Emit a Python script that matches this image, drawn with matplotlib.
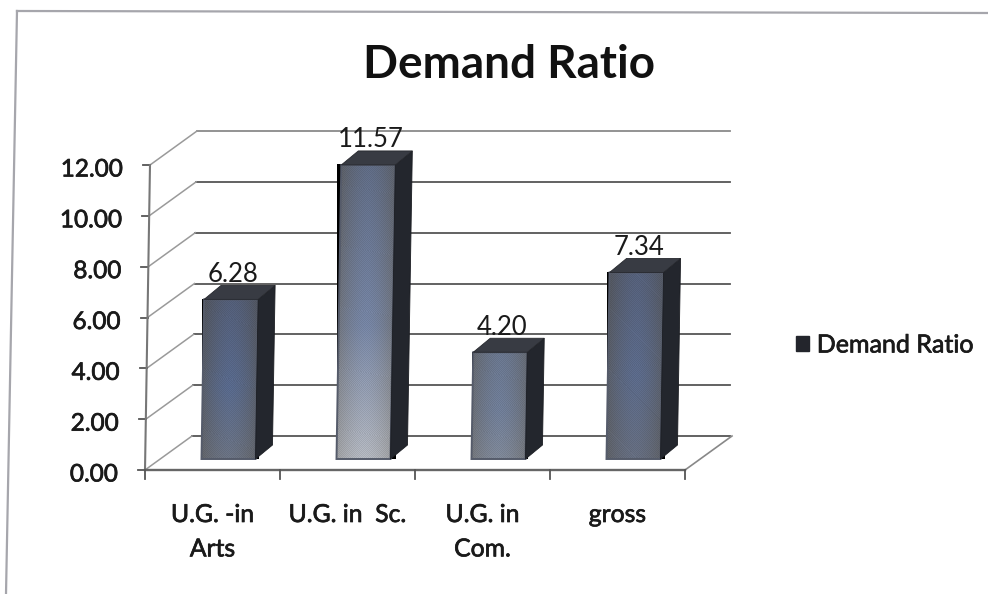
import numpy as np
import matplotlib
matplotlib.use("Agg")
import matplotlib.pyplot as plt
import matplotlib.patheffects as pe
from matplotlib.colors import to_rgb
from matplotlib.lines import Line2D
from matplotlib.patches import Patch, Polygon
from matplotlib.transforms import Affine2D, IdentityTransform

title = "Demand Ratio"
categories = ["U.G. -in\nArts", "U.G. in  Sc.", "U.G. in\nCom.", "gross"]
values = [6.28, 11.57, 4.20, 7.34]
value_labels = ["6.28", "11.57", "4.20", "7.34"]
y_ticks = [0, 2, 4, 6, 8, 10, 12]

# face colours of each bar, picked by eye
bar_top = ["#535e78", "#5f6b84", "#69768e", "#55607a"]
bar_mid = ["#58698c", "#7584a3", "#6f7d97", "#5b6a8a"]
bar_bottom = ["#6a7282", "#b2b6be", "#7e8797", "#656d7f"]

W, H = 988, 594
plt.rcParams["font.family"] = ["Lato", "DejaVu Sans"]
heavy = [pe.withStroke(linewidth=0.5, foreground="#1a1a1a")]

fig = plt.figure(figsize=(W / 100, H / 100), dpi=100, facecolor="white")
ax = fig.add_axes([145 / W, 124 / H, 540 / W, 305 / H])
ax.set_xlim(0, len(categories))
ax.set_ylim(0, 12)
ax.axis("off")

# the photo of the page leans a little, so everything is sheared
k = 5 / 305
shear = Affine2D.from_values(1, 0, k, 1, -k * 124, 0)
tdata = ax.transData + shear
wall_shift = np.array((47, 34))
bar_shift = (16, 11)
bar_depth = np.array((17, 14))
ident = IdentityTransform()

# outer frame of the chart
fig.add_artist(Line2D([6 / W, 17 / W], [0, 1 - 11 / H], color="#a6a6ac", lw=1.6))
fig.add_artist(Line2D([17 / W, 1], [1 - 11 / H, 1 - 13 / H], color="#a6a6ac", lw=1.6))

# back wall grid lines, side wall diagonals
for t in y_ticks:
    front = tdata.transform((0, t))
    back = front + wall_shift
    end = ax.transData.transform((len(categories), t)) + wall_shift - np.array((2, 0))
    shade = "#8a8a8a" if t == 12 else "#555555"
    ax.plot([back[0], end[0]], [back[1], end[1]], color=shade, lw=1.3,
            transform=ident, clip_on=False, zorder=1)
    ax.plot([front[0], back[0]], [front[1], back[1]], color="#9a9a9a", lw=1.1,
            transform=ident, clip_on=False, zorder=1)
    ax.plot([front[0] - 7, front[0]], [front[1], front[1]], color="#555555", lw=1.3,
            transform=ident, clip_on=False, zorder=2)
    ax.text(front[0] - 27, front[1] - 5, "%.2f" % t, ha="right", va="center",
            fontsize=17.5, color="#1a1a1a", path_effects=heavy,
            transform=ident, clip_on=False)

# front axis lines and floor edge
corner = tdata.transform((len(categories), 0))
ax.plot([corner[0], corner[0] + wall_shift[0]], [corner[1], corner[1] + wall_shift[1]],
        color="#888888", lw=1.2, transform=ident, clip_on=False, zorder=1)
ax.plot([0, 0], [0, 12], color="#777777", lw=1.5, transform=tdata, clip_on=False, zorder=2)
ax.plot([0, len(categories)], [0, 0], color="#666666", lw=1.7, transform=tdata,
        clip_on=False, zorder=2)
for i in range(len(categories) + 1):
    p = tdata.transform((i, 0))
    ax.plot([p[0], p[0]], [p[1], p[1] - 9], color="#555555", lw=1.3,
            transform=ident, clip_on=False, zorder=2)

# category labels
for i, name in enumerate(categories):
    p = tdata.transform((i + 0.5, 0))
    ax.text(p[0], p[1] - 33, name, ha="center", va="top", fontsize=17.8,
            linespacing=1.6, color="#1a1a1a", path_effects=heavy,
            transform=ident, clip_on=False)

# bars
bar_w = 0.4
bar_t = tdata + Affine2D().translate(*bar_shift)
for i, v in enumerate(values):
    x0 = i + 0.5 - bar_w / 2
    x1 = i + 0.5 + bar_w / 2

    rows, cols = int(v * 25.4), 54
    ys = np.linspace(0, 1, rows)
    stops = np.array([to_rgb(bar_bottom[i]), to_rgb(bar_mid[i]), to_rgb(bar_top[i])])
    column = np.stack([np.interp(ys, [0, 0.45, 1], stops[:, n]) for n in range(3)], axis=1)
    across = 0.65 * np.abs(np.linspace(-1, 1, cols)) ** 1.6
    grey = column.mean(axis=1, keepdims=True) * 0.8
    face = column[:, None, :] * (1 - across[None, :, None]) + grey[:, None, :] * across[None, :, None]
    # fine print dots of the scanned page
    rr, cc = np.indices((rows, cols))
    face = np.clip(face * (1 + 0.04 * (((rr + cc) % 2)[:, :, None] * 2 - 1)), 0, 1)

    im = ax.imshow(face, extent=(x0, x1, 0, v), origin="lower", aspect="auto",
                   interpolation="nearest", transform=bar_t, zorder=4)
    im.set_clip_on(False)

    c = bar_t.transform([(x0, 0), (x1, 0), (x1, v), (x0, v)])
    # covers the dark fringe the sheared image leaves on its edge
    ax.add_patch(Polygon(c, closed=True, fc="none", ec="#555b6a", lw=1.4,
                         transform=ident, clip_on=False, zorder=4.5))
    side = [c[1], c[2], c[2] + bar_depth, c[1] + bar_depth]
    top = [c[3], c[2], c[2] + bar_depth, c[3] + bar_depth]
    ax.add_patch(Polygon(side, closed=True, fc="#23262d", ec="#1b1d22", lw=0.6,
                         transform=ident, clip_on=False, zorder=5))
    ax.add_patch(Polygon(top, closed=True, fc="#383b43", ec="#26282d", lw=0.6,
                         transform=ident, clip_on=False, zorder=5))

    mid = (c[2] + c[3]) / 2
    ax.text(mid[0] + 2, mid[1] + 25, value_labels[i], ha="center", va="center",
            fontsize=18.5, color="#1a1a1a", transform=ident, clip_on=False, zorder=3)

fig.text(509 / W, 1 - 65 / H, title, ha="center", va="center", fontsize=33,
         fontweight="bold", color="#111111")

leg = fig.legend(handles=[Patch(fc="#23252c", ec="#23252c", label="Demand Ratio")],
                 loc="center left", bbox_to_anchor=(773 / W, 1 - 345 / H), frameon=False,
                 handlelength=0.55, handleheight=0.55, handletextpad=0.3,
                 prop={"size": 18})
for txt in leg.get_texts():
    txt.set_path_effects(heavy)
    txt.set_color("#1a1a1a")

fig.savefig("out.png", dpi=100)
